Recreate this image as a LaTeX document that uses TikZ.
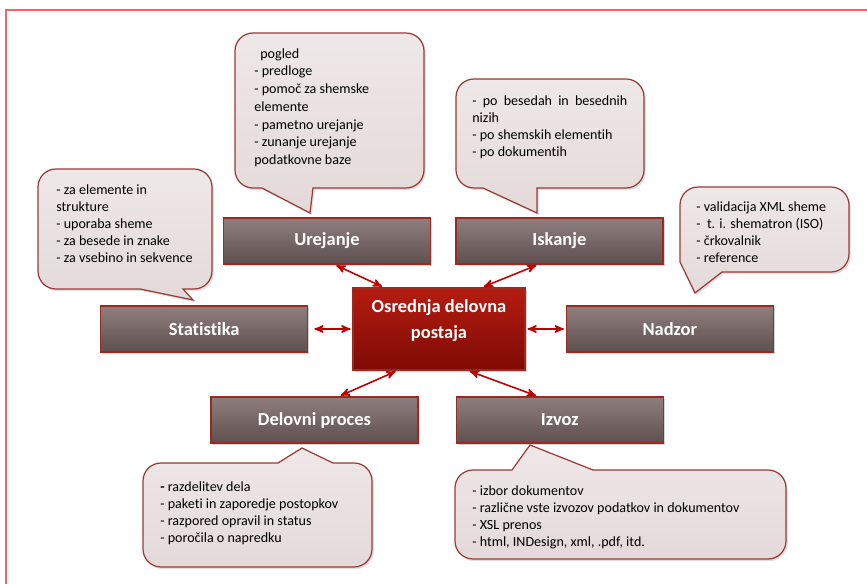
\documentclass[tikz,border=0pt]{standalone}
\usepackage{fontspec}
\setmainfont{Carlito}[Ligatures=NoCommon]
\usetikzlibrary{arrows,positioning,shadows}
\definecolor{framered}{HTML}{F06464}
\definecolor{boxtop}{HTML}{8E7E7E}
\definecolor{boxbot}{HTML}{5F4F4F}
\definecolor{boxline}{HTML}{9A2A22}
\definecolor{maintop}{HTML}{B51C10}
\definecolor{mainbot}{HTML}{7E0B05}
\definecolor{linkred}{HTML}{C00000}
\definecolor{bubtop}{HTML}{EFE8E8}
\definecolor{bubbot}{HTML}{E3D9D9}
\definecolor{bubline}{HTML}{9C3A34}

\begin{document}
\begin{tikzpicture}[x=0.02cm,y=-0.02cm,>=stealth',
    titlebox/.style={rectangle,draw=boxline,line width=0.8pt,
      top color=boxtop,bottom color=boxbot,text=white,
      minimum width=4.14cm,minimum height=0.92cm,
      font=\fontsize{10.5}{12}\selectfont\bfseries,
      drop shadow={shadow xshift=1pt,shadow yshift=-1.2pt,opacity=0.35}},
    mainbox/.style={titlebox,top color=maintop,bottom color=mainbot,
      minimum width=3.44cm,minimum height=1.64cm,align=center,
      font=\fontsize{10.5}{14.7}\selectfont\bfseries,text depth=0.39cm},
    bubble/.style={draw=bubline,line width=0.7pt,top color=bubtop,
      bottom color=bubbot,
      drop shadow={shadow xshift=1pt,shadow yshift=-1.2pt,opacity=0.25}},
    notes/.style={anchor=north west,inner sep=0pt,align=left,
      font=\fontsize{8}{9.7}\selectfont},
    link/.style={<->,draw=linkred,line width=0.9pt,shorten <=1pt,shorten >=1pt}]
  \useasboundingbox (0,0) rectangle (867,584);
  \draw[framered,line width=1.4pt] (6,584) -- (6,10) -- (867,10);

  % callouts
  \path[bubble] (235,188) [rounded corners=0.36cm] -- (235,33) -- (424,33)
    -- (424,188) [sharp corners] -- (313,188) -- (310,213) -- (262,188)
    [rounded corners=0.36cm] -- cycle;
  \path[bubble] (456,188) [rounded corners=0.36cm] -- (456,79) -- (644,79)
    -- (644,188) [sharp corners] -- (537,188) -- (537,213) -- (483,188)
    [rounded corners=0.36cm] -- cycle;
  \path[bubble] (38,289) [rounded corners=0.36cm] -- (38,169) -- (212,169)
    -- (212,289) [sharp corners] -- (183,289) -- (193,300) -- (140,289)
    [rounded corners=0.36cm] -- cycle;
  \path[bubble] (680,262) [rounded corners=0.36cm] -- (680,187) -- (849,187)
    -- (849,272) [sharp corners] -- (722,272) -- (695,293) -- cycle;
  \path[bubble] (143,567) [rounded corners=0.36cm] -- (143,463)
    [sharp corners] -- (278,463) -- (302,448) -- (333,463)
    [rounded corners=0.36cm] -- (372,463) -- (372,567) -- cycle;
  \path[bubble] (455,559) [rounded corners=0.36cm] -- (455,470)
    [sharp corners] -- (512,470) -- (530,445) -- (593,470)
    [rounded corners=0.36cm] -- (786,470) -- (786,559) -- cycle;

  \node[notes,font=\fontsize{8}{10.1}\selectfont] (urejanjeTxt) at (254,48)
    {\hspace*{0.12cm}pogled\\- predloge\\
    - pomoč za shemske\\elemente\\- pametno urejanje\\- zunanje urejanje\\
    podatkovne baze};
  \node[notes] (iskanjeTxt) at (472,95) {\makebox[3.1cm][s]{- po besedah in besednih}\\
    nizih\\- po shemskih elementih\\- po dokumentih};
  \node[notes] (statistikaTxt) at (56,184) {- za elemente in\\strukture\\
    - uporaba sheme\\- za besede in znake\\- za vsebino in sekvence};
  \node[notes] (nadzorTxt) at (696,201) {- validacija XML sheme\\
    -\ \ t. i. shematron (ISO)\\- črkovalnik\\- reference};
  \node[notes] (delovniTxt) at (160,481) {\textbf{-} razdelitev dela\\
    - paketi in zaporedje postopkov\\- razpored opravil in status\\
    - poročila o napredku};
  \node[notes] (izvozTxt) at (472,485) {- izbor dokumentov\\
    - različne vste izvozov podatkov in dokumentov\\- XSL prenos\\
    - html, INDesign, xml, .pdf, itd.};

  % boxes
  \node[mainbox] (center) at (439,329) {Osrednja delovna\\postaja};
  \node[titlebox] (statistika) [left=0.88cm of center] {Statistika};
  \node[titlebox] (nadzor) [right=0.8cm of center] {Nadzor};
  \node[titlebox] (urejanje) at (327,241) {Urejanje};
  \node[titlebox] (iskanje) [right=0.48cm of urejanje] {Iskanje};
  \node[titlebox] (delovni) at (314.5,420) {Delovni proces};
  \node[titlebox] (izvoz) [right=0.74cm of delovni] {Izvoz};

  \path (urejanje.-72) edge[link] (center.143)
  (iskanje.-132) edge[link] (center.44)
  (statistika.east) edge[link,shorten <=0.12cm] (center.west)
  (nadzor.west) edge[link] (center.east)
  (delovni.44) edge[link] (center.-135)
  (izvoz.133) edge[link] (center.-55);
\end{tikzpicture}
\end{document}
